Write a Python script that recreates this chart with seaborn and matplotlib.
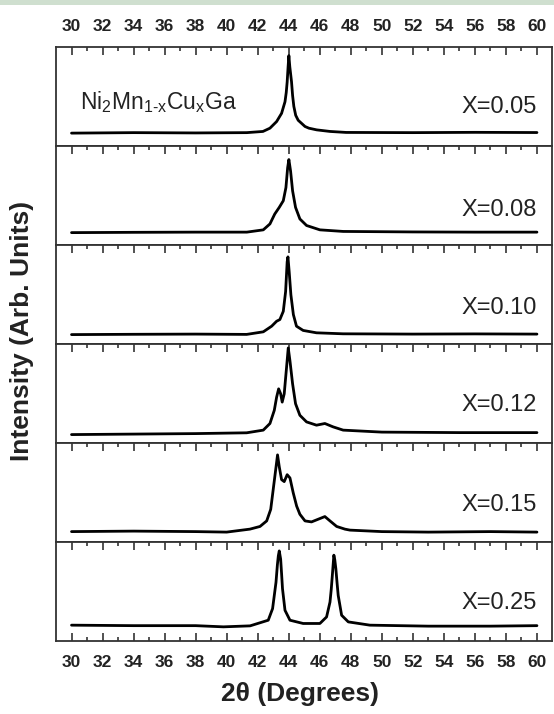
import matplotlib
matplotlib.use("Agg")
import matplotlib.pyplot as plt
import seaborn as sns
import pandas as pd

# XRD patterns of Ni2Mn(1-x)Cu(x)Ga, relative intensity (arb. units) vs 2-theta
compositions = ["X=0.05", "X=0.08", "X=0.10", "X=0.12", "X=0.15", "X=0.25"]

tt_005 = [30.0, 34.0, 38.0, 41.3, 42.34, 42.79, 43.22, 43.54, 43.76, 43.84, 43.9, 43.96, 44.01,
          44.07, 44.18, 44.25, 44.33, 44.45, 44.61, 45.05, 45.3, 45.8, 46.66, 47.7, 52.0, 56.0, 60.0]
in_005 = [13.0, 13.5, 13.2, 13.5, 14.7, 18.0, 24.7, 33.0, 44.7, 54.0, 64.7, 80.0, 91.3,
          80.0, 65.0, 51.0, 40.0, 31.0, 26.0, 19.7, 18.0, 16.3, 14.7, 13.7, 13.5, 13.8, 13.6]

tt_008 = [30.0, 34.0, 38.0, 41.3, 42.36, 42.79, 43.1, 43.39, 43.65, 43.82, 43.93, 44.01,
          44.12, 44.25, 44.44, 44.72, 45.15, 46.01, 47.51, 52.0, 56.0, 60.0]
in_008 = [12.5, 12.8, 13.0, 13.0, 15.3, 21.3, 31.3, 38.0, 44.7, 58.0, 78.0, 86.3,
          74.7, 54.7, 38.0, 26.3, 19.7, 15.3, 13.7, 13.2, 13.0, 13.0]

tt_010 = [30.0, 34.0, 38.0, 41.29, 42.36, 42.9, 43.22, 43.43, 43.65, 43.8, 43.9, 43.95,
          44.03, 44.14, 44.3, 44.5, 44.93, 45.79, 47.5, 52.0, 56.0, 60.0]
in_010 = [9.5, 9.8, 10.0, 9.7, 12.3, 18.0, 23.0, 24.7, 33.0, 53.0, 83.0, 88.0,
          73.0, 49.7, 29.7, 18.0, 13.7, 11.3, 10.3, 10.0, 10.2, 10.0]

tt_012 = [30.0, 34.0, 38.0, 41.29, 42.36, 42.79, 43.07, 43.22, 43.35, 43.48, 43.58,
          43.71, 43.86, 43.97, 44.08, 44.25, 44.44, 44.72, 45.15, 45.79, 46.33, 46.86,
          47.51, 50.0, 55.0, 60.0]
in_012 = [8.5, 9.0, 9.5, 10.3, 13.0, 19.7, 33.0, 46.3, 54.7, 49.7, 41.3,
          49.7, 76.3, 96.0, 83.0, 59.7, 39.7, 28.0, 21.3, 18.0, 19.7, 16.3,
          13.0, 11.0, 10.5, 10.5]

tt_015 = [30.0, 34.0, 38.0, 40.0, 41.5, 42.15, 42.58, 42.84, 43.0, 43.16, 43.28, 43.39,
          43.54, 43.71, 43.9, 44.08, 44.29, 44.51, 44.72, 45.05, 45.47, 45.9, 46.33,
          46.66, 47.09, 47.62, 47.95, 50.0, 53.0, 57.0, 60.0]
in_015 = [10.5, 11.0, 10.5, 10.0, 13.0, 15.7, 21.3, 33.0, 53.0, 73.0, 88.0, 76.0,
          63.0, 61.0, 68.0, 64.7, 49.7, 36.3, 28.0, 21.3, 20.3, 23.0, 25.7,
          21.3, 15.7, 13.0, 12.0, 10.5, 10.0, 10.5, 10.0]

tt_025 = [30.0, 34.0, 38.0, 39.79, 41.51, 42.68, 42.96, 43.18, 43.27, 43.33, 43.39, 43.48,
          43.54, 43.6, 43.76, 44.08, 44.93, 46.01, 46.44, 46.66, 46.74, 46.81, 46.91,
          46.97, 47.04, 47.12, 47.19, 47.41, 47.84, 49.23, 53.0, 57.0, 60.0]
in_025 = [16.0, 15.5, 15.5, 14.3, 15.3, 21.0, 32.7, 59.3, 77.0, 86.0, 91.0, 82.7,
          68.0, 52.7, 31.0, 21.0, 17.7, 17.7, 24.3, 39.3, 52.0, 66.0, 86.7,
          82.0, 72.7, 58.0, 46.0, 26.0, 19.3, 16.0, 15.0, 15.0, 15.5]

two_theta = [tt_005, tt_008, tt_010, tt_012, tt_015, tt_025]
intensity = [in_005, in_008, in_010, in_012, in_015, in_025]

tick_values = list(range(30, 61, 2))

sns.set_theme(style="white")
plt.rcParams["font.family"] = ["Liberation Sans", "DejaVu Sans"]
plt.rcParams["mathtext.fontset"] = "custom"
plt.rcParams["mathtext.rm"] = "Liberation Sans"
plt.rcParams["mathtext.it"] = "Liberation Sans"

text_color = "#222222"
frame_color = "#333333"

fig = plt.figure(figsize=(5.54, 7.14), dpi=100)
fig.patch.set_facecolor("white")
# thin tinted strip across the top edge
fig.patches.append(plt.Rectangle((0, 1 - 5 / 714), 1, 5 / 714, transform=fig.transFigure,
                                 facecolor="#cfdfcf", edgecolor="none", zorder=0))

gs = fig.add_gridspec(6, 1, left=56 / 554, right=552 / 554,
                      top=1 - 47 / 714, bottom=1 - 641 / 714, hspace=0)

label_y = [0.335, 0.29, 0.30, 0.32, 0.31, 0.32]

for i, comp in enumerate(compositions):
    ax = fig.add_subplot(gs[i])
    df = pd.DataFrame({"two_theta": two_theta[i], "intensity": intensity[i]})
    sns.lineplot(data=df, x="two_theta", y="intensity", ax=ax, color="black",
                 linewidth=2.0, estimator=None, sort=False)
    ax.set_xlim(29.0, 60.97)
    ax.set_ylim(0, 100)
    ax.set_xlabel("")
    ax.set_ylabel("")
    ax.set_yticks([])
    ax.set_xticks(tick_values)
    ax.set_xticks(range(31, 60, 2), minor=True)
    for s in ax.spines.values():
        s.set_color(frame_color)
        s.set_linewidth(1.3)
    last = i == len(compositions) - 1
    ax.tick_params(axis="x", which="both", direction="in", top=True, bottom=last,
                   labeltop=(i == 0), labelbottom=last, color=frame_color, width=1.2)
    ax.tick_params(axis="x", which="major", length=6, pad=10 if last else 9.5)
    ax.tick_params(axis="x", which="minor", length=3)
    for lab in ax.get_xticklabels():
        lab.set_fontweight("bold")
        lab.set_fontsize(12.5)
        lab.set_color(text_color)
    ax.text(60.0, label_y[i], comp, transform=ax.get_xaxis_transform(),
            ha="right", va="baseline", fontsize=17, color=text_color)
    if i == 0:
        ax.text(30.55, 0.375, r"Ni$_{\mathrm{2}}$Mn$_{\mathrm{1\text{-}x}}$Cu$_{\mathrm{x}}$Ga",
                transform=ax.get_xaxis_transform(), ha="left", va="baseline",
                fontsize=16.5, color=text_color)

fig.text(300 / 554, 1 - 694 / 714, "2θ (Degrees)", ha="center", va="center",
         fontsize=19, fontweight="bold", color=text_color)
fig.text(22 / 554, 1 - 331 / 714, "Intensity (Arb. Units)", ha="center", va="center",
         rotation=90, fontsize=19, fontweight="bold", color=text_color)

fig.savefig("out.png", dpi=100)
